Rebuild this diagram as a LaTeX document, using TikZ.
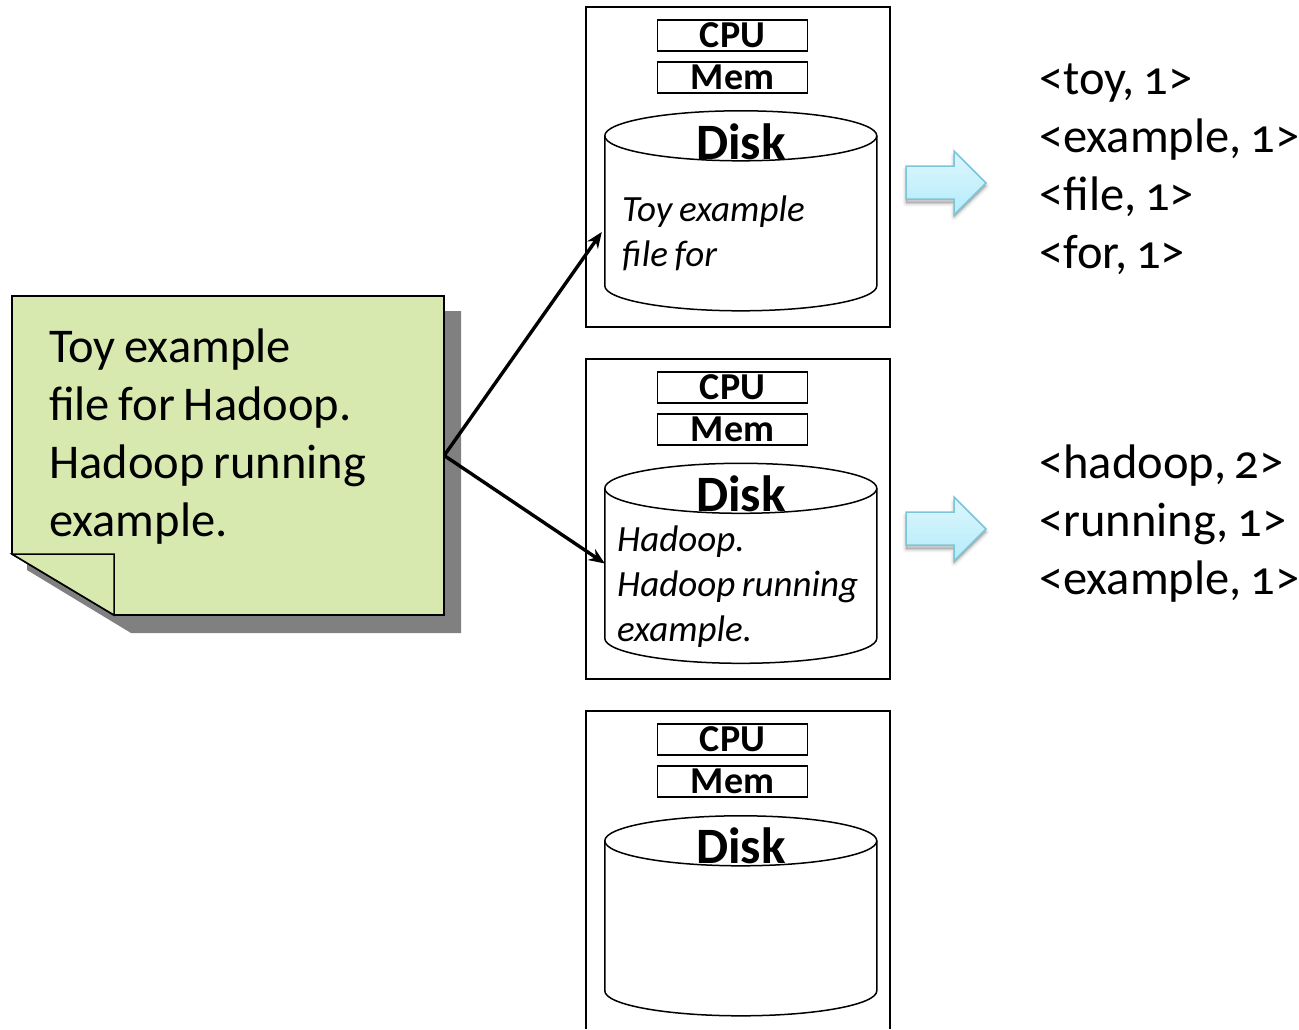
\documentclass[tikz,border=0pt]{standalone}
\usepackage{fontspec}
\setmainfont[Numbers=OldStyle,WordSpace=0.8]{Carlito}
\usetikzlibrary{arrows.meta,calc}
\definecolor{notegreen}{HTML}{D8E9B0}
\definecolor{shadowgray}{HTML}{808080}
\definecolor{arrowedge}{HTML}{7CC4D8}
\definecolor{arrowtop}{HTML}{DDF6FC}
\definecolor{arrowbot}{HTML}{B4ECFB}
\tikzset{
  hostbox/.style={draw=black,line width=1.8pt,fill=white,minimum width=304pt,minimum height=320pt,inner sep=0pt},
  partbox/.style={draw=black,line width=1.6pt,minimum width=150pt,minimum height=31pt,inner sep=0pt,font=\fontsize{38}{38}\selectfont\bfseries},
  disktitle/.style={inner sep=0pt,font=\fontsize{51}{51}\selectfont\bfseries},
  diskarea/.style={minimum width=272pt,minimum height=200pt,inner sep=0pt},
  diskline/.style={draw=black,line width=1.5pt},
  disktext/.style={inner sep=0pt,anchor=north west,align=left,font=\fontsize{37}{45}\selectfont\itshape},
  bigtext/.style={inner sep=0pt,anchor=north west,align=left,font=\fontsize{48.5}{58}\selectfont},
  link/.style={draw=black,line width=3.4pt,-{Stealth[length=16pt,width=13pt]}},
}
\newcommand{\diskshape}[1]{%
  \path[diskline,fill=white] (#1.north west)++(0pt,-25pt) coordinate (#1tl)
    -- ++(0pt,-150pt) arc[start angle=180,end angle=360,x radius=136pt,y radius=25pt] -- ++(0pt,150pt);
  \path[diskline] ($(#1tl)+(136pt,0pt)$) ellipse[x radius=136pt,y radius=25pt];
}
\newcommand{\blockarrow}[2]{%
  \begin{scope}[shift={(#1,#2)}]
    \foreach \g/\o in {7/0.03,5/0.04,3/0.05,1.5/0.06}{
      \fill[black,opacity=\o,line join=round,draw=black,line width=\g pt]
        (0,19) -- (48,19) -- (48,5) -- (80,35) -- (48,66) -- (48,52) -- (0,52) -- cycle;
    }
    \path[draw=arrowedge,line width=1.5pt,top color=arrowtop,bottom color=arrowbot]
      (0,15) -- (48,15) -- (48,0) -- (80,32) -- (48,64) -- (48,48) -- (0,48) -- cycle;
  \end{scope}
}
\begin{document}
\begin{tikzpicture}[x=1pt,y=-1pt]
\useasboundingbox (0,0) rectangle (1299,1029);
% sticky note
\fill[shadowgray] (27,311) -- (461,311) -- (461,633) -- (131,633) -- (27,570) -- cycle;
\draw[draw=black,line width=1.8pt,fill=notegreen,line join=miter]
  (12,296) -- (444,296) -- (444,615) -- (114,615) -- (12,554) -- cycle;
\draw[draw=black,line width=1.5pt,fill=notegreen,line join=miter]
  (12,554) -- (114,554) -- (114,615) -- cycle;
\node[minimum width=432pt,minimum height=319pt,inner sep=0pt] (note) at (228,455.5) {};
\node[bigtext] (notetext) at (49,329) {Toy example\\file for Hadoop.\\Hadoop running\\example.};
% host 1
\node[hostbox] (host1) at (738,167) {};
\node[partbox] (cpu1) at (732.5,35.5) {CPU};
\node[partbox] (mem1) at (732.5,77.5) {Mem};
\node[diskarea] (disk1) at (741,211) {};
\diskshape{disk1}
\node[disktitle] (title1) at (741,142) {Disk};
\node[disktext] (text1) at (622,196) {Toy example\\file for};
% host 2
\node[hostbox] (host2) at (738,519) {};
\node[partbox] (cpu2) at (732.5,387.5) {CPU};
\node[partbox] (mem2) at (732.5,429.5) {Mem};
\node[diskarea] (disk2) at (741,563.5) {};
\diskshape{disk2}
\node[disktitle] (title2) at (741,494) {Disk};
\node[disktext] (text2) at (617,526) {Hadoop.\\Hadoop running\\example.};
% host 3 (runs off the page)
\draw[line width=1.8pt] (586,1029) |- (890,711) -- (890,1029);
\node[partbox] (cpu3) at (732.5,739.5) {CPU};
\node[partbox] (mem3) at (732.5,781.5) {Mem};
\node[diskarea] (disk3) at (741,916) {};
\diskshape{disk3}
\node[disktitle] (title3) at (741,846) {Disk};
% connectors
\coordinate (tip1) at ($(disk1.west)+(-3pt,-21pt)$);
\path[link] (note.east) -- (tip1);
\path[link] (note.east) -- (disk2.west);
% block arrows
\blockarrow{906}{151}
\blockarrow{906}{497}
% results
\node[bigtext] (res1) at (1039,64) {<toy, 1>\\<example, 1>\\<file, 1>\\<for, 1>};
\node[bigtext] (res2) at (1039,445) {<hadoop, 2>\\<running, 1>\\<example, 1>};
\end{tikzpicture}
\end{document}
